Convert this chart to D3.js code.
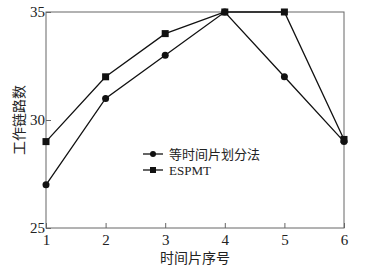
<!DOCTYPE html>
<html>
<head>
<meta charset="utf-8">
<script src="https://cdn.jsdelivr.net/npm/d3@7"></script>
<style>
  body { margin: 0; background: #fff; }
  text { font-family: "Liberation Serif", "Noto Sans CJK SC", serif; fill: #222; }
</style>
</head>
<body>
<div id="chart"></div>
<script>
var slots = [1, 2, 3, 4, 5, 6];
var equalSlice = [27, 31, 33, 35, 32, 29];
var espmt = [29, 32, 34, 35, 35, 29.1];
var yTicks = [25, 30, 35];
var seriesNames = ["等时间片划分法", "ESPMT"];

var w = 371, h = 278;
var padLeft = 46, padRight = 344, padTop = 12, padBottom = 228;

var svg = d3.select("#chart").append("svg")
  .attr("width", w)
  .attr("height", h);

var xScale = d3.scaleLinear().domain([1, 6]).range([padLeft, padRight]);
var yScale = d3.scaleLinear().domain([25, 35]).range([padBottom, padTop]);

// frame
svg.append("rect")
  .attr("x", padLeft).attr("y", padTop)
  .attr("width", padRight - padLeft).attr("height", padBottom - padTop)
  .attr("fill", "none").attr("stroke", "#666").attr("stroke-width", 1);

// x axis, ticks pointing inward
var xAxis = d3.axisTop(xScale).tickValues(slots).tickSize(5).tickFormat(d3.format("d"));
var gx = svg.append("g").attr("transform", "translate(0," + padBottom + ")").call(xAxis);
gx.select(".domain").remove();
gx.selectAll("line").attr("stroke", "#666");
gx.selectAll("text").attr("y", 17).attr("dy", 0).attr("fill", "#222")
  .style("font-size", "15px").style("font-family", "Liberation Serif");

var yAxis = d3.axisRight(yScale).tickValues(yTicks).tickSize(5);
var gy = svg.append("g").attr("transform", "translate(" + padLeft + ",0)").call(yAxis);
gy.select(".domain").remove();
gy.selectAll("line").attr("stroke", "#666");
gy.selectAll("text").attr("x", -1).attr("text-anchor", "end").attr("fill", "#222")
  .style("font-size", "15px").style("font-family", "Liberation Serif");

var line = d3.line()
  .x(function(d, i) { return xScale(slots[i]); })
  .y(function(d) { return yScale(d); });

svg.append("path").datum(equalSlice)
  .attr("d", line).attr("fill", "none").attr("stroke", "#111").attr("stroke-width", 1.3);
svg.append("path").datum(espmt)
  .attr("d", line).attr("fill", "none").attr("stroke", "#111").attr("stroke-width", 1.3);

svg.selectAll(".dot").data(equalSlice).enter().append("circle")
  .attr("cx", function(d, i) { return xScale(slots[i]); })
  .attr("cy", function(d) { return yScale(d); })
  .attr("r", 3.5).attr("fill", "#111");

svg.selectAll(".sq").data(espmt).enter().append("rect")
  .attr("x", function(d, i) { return xScale(slots[i]) - 3.5; })
  .attr("y", function(d) { return yScale(d) - 3.5; })
  .attr("width", 7).attr("height", 7).attr("fill", "#111");

// legend
var legend = svg.append("g").attr("transform", "translate(143,154)");
seriesNames.forEach(function(name, i) {
  var g = legend.append("g").attr("transform", "translate(0," + (i * 16) + ")");
  g.append("line").attr("x1", 0).attr("x2", 20).attr("y1", 0).attr("y2", 0)
    .attr("stroke", "#111").attr("stroke-width", 1.3);
  if (i === 0) {
    g.append("circle").attr("cx", 10).attr("cy", 0).attr("r", 3).attr("fill", "#111");
  } else {
    g.append("rect").attr("x", 7).attr("y", -3).attr("width", 6).attr("height", 6).attr("fill", "#111");
  }
  g.append("text").attr("x", 26).attr("y", 5).attr("fill", "#333").style("font-size", "13px").text(name);
});

// axis titles
svg.append("text")
  .attr("x", (padLeft + padRight) / 2).attr("y", 263)
  .attr("text-anchor", "middle").attr("fill", "#333").style("font-size", "14px")
  .text("时间片序号");

svg.append("text")
  .attr("transform", "translate(24," + ((padTop + padBottom) / 2) + ") rotate(-90)")
  .attr("text-anchor", "middle").attr("fill", "#333").style("font-size", "14px")
  .text("工作链路数");
</script>
</body>
</html>
